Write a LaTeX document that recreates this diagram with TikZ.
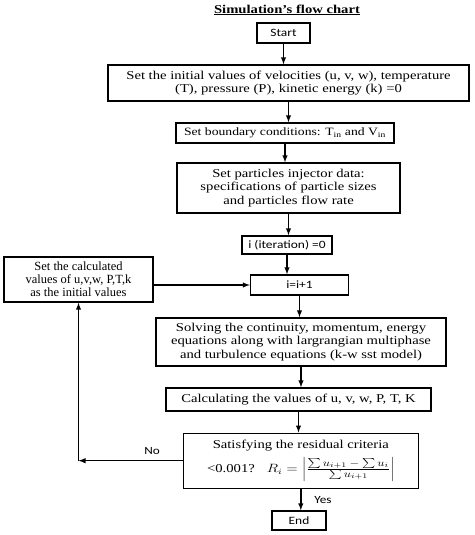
\documentclass[tikz,border=0pt]{standalone}
\usepackage{fontspec}
\setmainfont{Liberation Serif}[FakeStretch=1.22]
\newfontfamily\plainserif{Liberation Serif}
\newfontfamily\calib{Carlito}[FakeStretch=1.2]
\newcommand\smallmath[1]{\mbox{\fontsize{10}{11}\selectfont$#1$}}
\begin{document}
\begin{tikzpicture}[x=1pt,y=-1pt,>=latex,
  box/.style={draw,line width=1.4pt,inner sep=0pt,align=center,font=\fontsize{12}{13.7}\selectfont},
  sbox/.style={box,font=\calib\fontsize{11.2}{13}\selectfont},
  lbl/.style={font=\calib\fontsize{11}{12}\selectfont},
  flow/.style={->,line width=1.4pt}]
\useasboundingbox (0,0) rectangle (474,535);
\node[font=\bfseries\fontsize{12}{13}\selectfont] at (287,10) (title) {\underline{Simulation’s flow chart}};
\node[sbox,minimum width=53,minimum height=20] at (283.5,33) (start) {Start};
\node[box,minimum width=361,minimum height=36] at (288.5,83) (init) {Set the initial values of velocities (u, v, w), temperature\\(T), pressure (P), kinetic energy (k) =0};
\node[box,font=\fontsize{11.2}{13}\selectfont,minimum width=218,minimum height=20] at (285,133) (bound) {Set boundary conditions: T\textsubscript{in} and V\textsubscript{in}};
\node[box,minimum width=223,minimum height=50] at (288.5,188) (inject) {Set particles injector data:\\specifications of particle sizes\\and particles flow rate};
\node[sbox,minimum width=90,minimum height=18] at (287,245) (iter) {i (iteration) =0};
\node[sbox,minimum width=98,minimum height=20] at (299.5,285) (incr) {i=i+1};
\node[box,font=\plainserif\fontsize{12.5}{13}\selectfont,minimum width=149,minimum height=45] at (78.5,279.5) (reset) {Set the calculated\\values of u,v,w, P,T,k\\as the initial values};
\node[box,minimum width=290,minimum height=48] at (301,342) (solve) {Solving the continuity, momentum, energy\\equations along with largrangian multiphase\\and turbulence equations (k-w sst model)};
\node[box,minimum width=265,minimum height=23] at (298.5,399.5) (calc) {Calculating the values of u, v, w, P, T, K};
\node[box,minimum width=235,minimum height=55] at (300.8,460.7) (check) {Satisfying the residual criteria\\[5pt]
  <0.001?\quad\scalebox{1.25}[1]{$R_i=\left|\frac{\smallmath{\sum u_{i+1}-\sum u_i}}{\smallmath{\sum u_{i+1}}}\right|$}};
\node[sbox,minimum width=54,minimum height=19] at (299,520.5) (stop) {End};
\coordinate (back) at (reset.south |- check.west);
\node[lbl] at (152,451) (no) {No};
\node[lbl] at (323,500) (yes) {Yes};

\draw[flow] (start.south) -- (start.south |- init.north);
\draw[flow] (init.south) -- (init.south |- bound.north);
\draw[flow] (bound.south) -- (bound.south |- inject.north);
\draw[flow] (inject.south) -- (inject.south |- iter.north);
\draw[flow] (iter.south) -- (iter.south |- incr.north);
\draw[flow] (incr.south) -- (incr.south |- solve.north);
\draw[flow] (solve.south) -- (solve.south |- calc.north);
\draw[flow] (calc.south) -- (calc.south |- check.north);
\draw[flow] (check.south) -- (check.south |- stop.north);
\draw[flow] (check.west) -- (back);
\draw[flow] (back) -- (reset.south);
\draw[flow] (reset.east |- incr.west) -- (incr.west);
\end{tikzpicture}
\end{document}
